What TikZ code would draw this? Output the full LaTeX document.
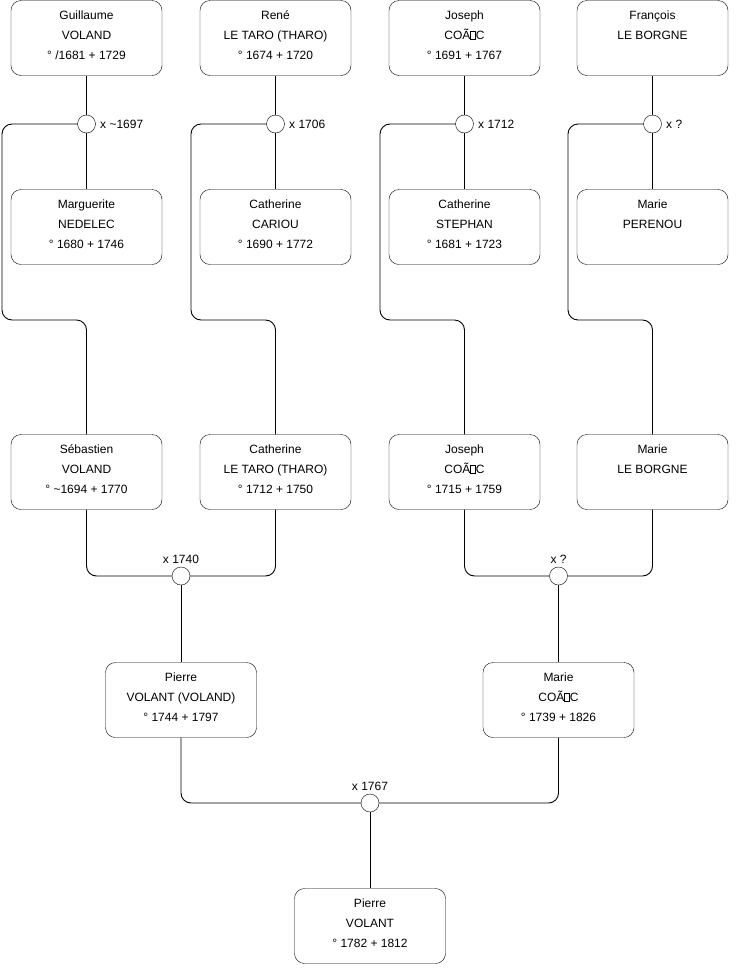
\documentclass[tikz,border=0pt]{standalone}
\usepackage{fontspec}
\setmainfont{Liberation Sans}
\newcommand{\nochar}{{\setlength{\fboxsep}{0pt}\setlength{\fboxrule}{0.5pt}\fbox{\rule{0pt}{8pt}\hspace{4.5pt}}}}
\begin{document}
\begin{tikzpicture}[
  x=1pt, y=-1pt,
  every node/.style={font=\fontsize{12}{20}\selectfont},
  person/.style={draw, rounded corners=10pt, minimum width=151pt, minimum height=75pt,
    align=center, fill=white, inner sep=0pt},
  union/.style={circle, draw, fill=white, minimum size=18pt, inner sep=0pt},
  link/.style={line width=0.9pt, rounded corners=10pt}
]
\useasboundingbox (0,0) rectangle (740,975);
% generation 1
\node[person] (gv) at (86.5,38) {Guillaume\\VOLAND\\° /1681 + 1729\strut};
\node[person] (rt) at (275.5,38) {René\\LE TARO (THARO)\\° 1674 + 1720\strut};
\node[person] (jc) at (464.5,38) {Joseph\\COÃ\nochar C\\° 1691 + 1767\strut};
\node[person] (fb) at (652.5,38) {François\\LE BORGNE\\\strut};
\node[person] (mn) at (86.5,227) {Marguerite\\NEDELEC\\° 1680 + 1746\strut};
\node[person] (cc) at (275.5,227) {Catherine\\CARIOU\\° 1690 + 1772\strut};
\node[person] (cs) at (464.5,227) {Catherine\\STEPHAN\\° 1681 + 1723\strut};
\node[person] (mp) at (652.5,227) {Marie\\PERENOU\\\strut};
% generation 2
\node[person] (sv) at (86.5,472) {Sébastien\\VOLAND\\° \textasciitilde 1694 + 1770\strut};
\node[person] (ct) at (275.5,472) {Catherine\\LE TARO (THARO)\\° 1712 + 1750\strut};
\node[person] (jc2) at (464.5,472) {Joseph\\COÃ\nochar C\\° 1715 + 1759\strut};
\node[person] (mb) at (652.5,472) {Marie\\LE BORGNE\\\strut};
% generation 3
\node[person] (pv) at (181,700) {Pierre\\VOLANT (VOLAND)\\° 1744 + 1797\strut};
\node[person] (mc) at (558.5,700) {Marie\\COÃ\nochar C\\° 1739 + 1826\strut};
% generation 4
\node[person] (pv2) at (370,926) {Pierre\\VOLANT\\° 1782 + 1812\strut};
% marriages
\node[union] (m1) at (86.5,124) {};
\node[union] (m2) at (275.5,124) {};
\node[union] (m3) at (464.5,124) {};
\node[union] (m4) at (652.5,124) {};
\node[union] (m5) at (181,576) {};
\node[union] (m6) at (558.5,576) {};
\node[union] (m7) at (370,803) {};
\node[right=1pt] at (m1.east) {x \textasciitilde 1697};
\node[right=1pt] at (m2.east) {x 1706};
\node[right=1pt] at (m3.east) {x 1712};
\node[right=1pt] at (m4.east) {x ?};
\node[above=0pt] at (m5.north) {x 1740};
\node[above=0pt] at (m6.north) {x ?};
\node[above=0pt] at (m7.north) {x 1767};
% couples
\draw[link] (gv) -- (m1) -- (mn);
\draw[link] (rt) -- (m2) -- (cc);
\draw[link] (jc) -- (m3) -- (cs);
\draw[link] (fb) -- (m4) -- (mp);
\draw[link] (sv) |- (m5);
\draw[link] (ct) |- (m5);
\draw[link] (jc2) |- (m6);
\draw[link] (mb) |- (m6);
\draw[link] (pv) |- (m7);
\draw[link] (mc) |- (m7);
% children
\draw[link] (m1.west) -| (2,320) -| (sv.north);
\draw[link] (m2.west) -| (191,320) -| (ct.north);
\draw[link] (m3.west) -| (380,320) -| (jc2.north);
\draw[link] (m4.west) -| (568,320) -| (mb.north);
\draw[link] (m5) -- (pv);
\draw[link] (m6) -- (mc);
\draw[link] (m7) -- (pv2);
\end{tikzpicture}
\end{document}
